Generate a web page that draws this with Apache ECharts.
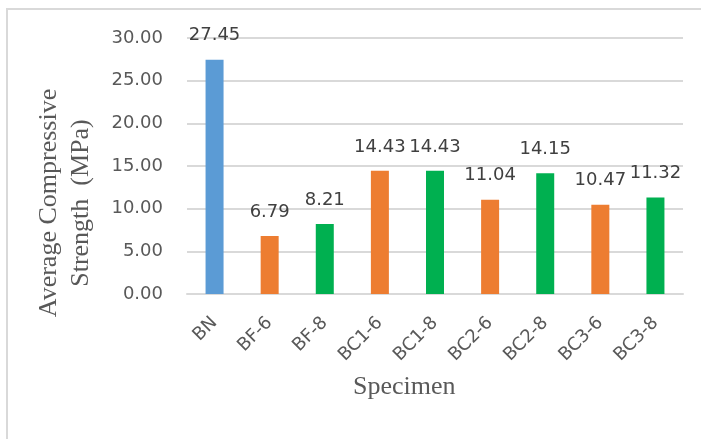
<!DOCTYPE html>
<html>
<head>
<meta charset="utf-8">
<script src="https://cdn.jsdelivr.net/npm/echarts@6/dist/echarts.min.js"></script>
<style>
  html, body { margin: 0; padding: 0; background: #fff; }
  #chart { width: 701px; height: 439px; }
</style>
</head>
<body>
<div id="chart"></div>
<script>
// Specimens and their average compressive strength (MPa)
var specimens = ['BN', 'BF-6', 'BF-8', 'BC1-6', 'BC1-8', 'BC2-6', 'BC2-8', 'BC3-6', 'BC3-8'];
var strength = [27.45, 6.79, 8.21, 14.43, 14.43, 11.04, 14.15, 10.47, 11.32];
var yTicks = [0, 5, 10, 15, 20, 25, 30];

// Bar colours: reference mix, 6 % mixes, 8 % mixes
var refColor = '#5b9bd5';
var sixColor = '#ed7d31';
var eightColor = '#00b050';

function colorFor(name) {
  if (name === 'BN') return refColor;
  return /-6$/.test(name) ? sixColor : eightColor;
}

var axisFont = 'DejaVu Sans';
var titleFont = '"Liberation Serif", "Times New Roman", serif';

var chart = echarts.init(document.getElementById('chart'), null, { renderer: 'canvas' });

chart.setOption({
  animation: false,
  backgroundColor: '#ffffff',
  graphic: [{
    type: 'rect',
    silent: true,
    shape: { x: 7, y: 9, width: 800, height: 600 },
    style: { fill: 'none', stroke: '#d9d9d9', lineWidth: 2 }
  }, {
    // y-axis title, two lines, reading bottom to top
    type: 'text',
    silent: true,
    x: 65,
    y: 203,
    rotation: Math.PI / 2,
    style: {
      text: 'Average Compressive\nStrength  (MPa)',
      font: '26px ' + titleFont,
      lineHeight: 32,
      fill: '#595959',
      align: 'center',
      verticalAlign: 'middle'
    }
  }, {
    type: 'text',
    silent: true,
    left: 353,
    top: 374,
    style: {
      text: 'Specimen',
      font: '26px ' + titleFont,
      fill: '#595959'
    }
  }],
  grid: { left: 187, right: 18, top: 38, bottom: 145, containLabel: false, outerBoundsMode: 'none' },
  xAxis: {
    type: 'category',
    data: specimens,
    axisLine: { show: true, lineStyle: { color: '#d9d9d9', width: 2 } },
    axisTick: { show: false },
    axisLabel: {
      rotate: 45,
      margin: 26,
      fontFamily: axisFont,
      fontSize: 18,
      color: '#595959',
      interval: 0
    }
  },
  yAxis: {
    type: 'value',
    min: yTicks[0],
    max: yTicks[yTicks.length - 1],
    interval: yTicks[1] - yTicks[0],
    axisLine: { show: false },
    axisTick: { show: false },
    splitLine: { lineStyle: { color: '#d9d9d9', width: 2 } },
    axisLabel: {
      margin: 24,
      fontFamily: axisFont,
      fontSize: 18,
      color: '#595959',
      formatter: function (v) { return v.toFixed(2); }
    }
  },
  series: [{
    type: 'bar',
    barWidth: 18,
    data: strength.map(function (v, i) {
      return { value: v, itemStyle: { color: colorFor(specimens[i]) } };
    }),
    label: {
      show: true,
      position: 'top',
      distance: 15,
      fontFamily: axisFont,
      fontSize: 18,
      color: '#404040',
      formatter: function (p) { return p.value.toFixed(2); }
    }
  }]
});
</script>
</body>
</html>
